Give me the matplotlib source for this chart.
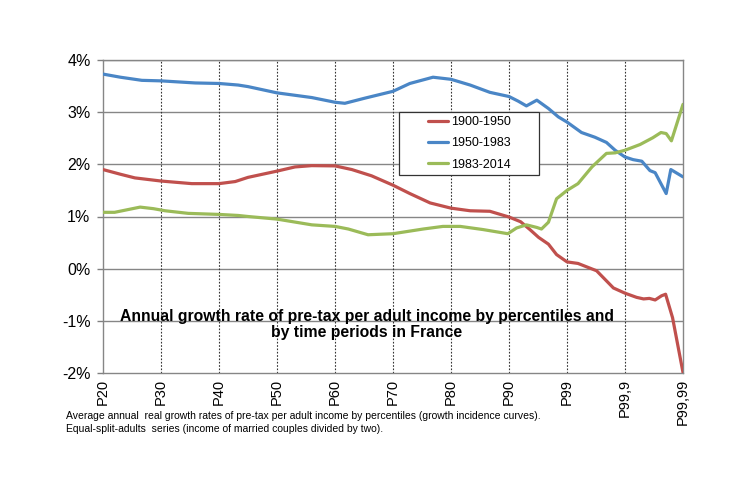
import matplotlib
matplotlib.use("Agg")
import matplotlib.pyplot as plt
from matplotlib.ticker import FuncFormatter
from matplotlib.patches import Rectangle

plt.rcParams['font.family'] = ['Liberation Sans', 'DejaVu Sans']

# Category tick labels (equally spaced)
tick_labels = ["P20", "P30", "P40", "P50", "P60", "P70", "P80", "P90", "P99", "P99,9", "P99,99"]

# Series: positions on the percentile axis (0 = P20 ... 10 = P99,99) and growth rates (%)
pos_1900_1950 = [0, 0.3, 0.55, 1.0, 1.53, 2.0, 2.28, 2.5, 3.0, 3.31, 3.6, 4.0, 4.29, 4.63, 5.0,
                 5.29, 5.64, 6.0, 6.33, 6.67, 7.0, 7.2, 7.36, 7.51, 7.68, 7.82, 8.0, 8.19, 8.51,
                 8.8, 9.0, 9.2, 9.32, 9.42, 9.52, 9.63, 9.7, 9.82, 10]
val_1900_1950 = [1.90, 1.81, 1.74, 1.68, 1.63, 1.63, 1.67, 1.75, 1.87, 1.95, 1.975, 1.97, 1.90,
                 1.78, 1.60, 1.44, 1.26, 1.16, 1.11, 1.10, 0.99, 0.90, 0.75, 0.60, 0.47, 0.27,
                 0.13, 0.10, -0.04, -0.37, -0.47, -0.55, -0.58, -0.57, -0.60, -0.52, -0.49,
                 -0.94, -1.99]

pos_1950_1983 = [0, 0.3, 0.67, 1.0, 1.59, 2.0, 2.33, 2.5, 3.0, 3.6, 4.0, 4.17, 4.52, 5.0, 5.29,
                 5.69, 6.0, 6.33, 6.67, 7.0, 7.16, 7.3, 7.48, 7.68, 7.85, 8.0, 8.25, 8.48, 8.68,
                 8.83, 9.0, 9.14, 9.29, 9.43, 9.52, 9.71, 9.79, 10]
val_1950_1983 = [3.73, 3.67, 3.61, 3.60, 3.56, 3.55, 3.52, 3.49, 3.37, 3.28, 3.19, 3.17, 3.27,
                 3.40, 3.55, 3.67, 3.63, 3.52, 3.38, 3.30, 3.21, 3.12, 3.23, 3.07, 2.91, 2.81,
                 2.61, 2.52, 2.42, 2.27, 2.14, 2.09, 2.06, 1.88, 1.84, 1.44, 1.90, 1.76]

pos_1983_2014 = [0, 0.2, 0.64, 0.87, 1.07, 1.47, 2.0, 2.33, 2.5, 3.0, 3.6, 4.0, 4.23, 4.57, 5.0,
                 5.52, 5.86, 6.16, 6.55, 6.98, 7.13, 7.3, 7.48, 7.56, 7.68, 7.82, 8.0, 8.19,
                 8.43, 8.68, 8.83, 9.0, 9.26, 9.48, 9.62, 9.71, 9.8, 10]
val_1983_2014 = [1.08, 1.08, 1.18, 1.15, 1.11, 1.06, 1.04, 1.02, 1.00, 0.95, 0.84, 0.81, 0.76,
                 0.65, 0.67, 0.76, 0.81, 0.81, 0.75, 0.67, 0.78, 0.84, 0.79, 0.76, 0.89, 1.34,
                 1.50, 1.63, 1.95, 2.21, 2.22, 2.27, 2.38, 2.51, 2.61, 2.59, 2.45, 3.15]

series_names = ["1900-1950", "1950-1983", "1983-2014"]
colors = ["#C0504D", "#4A86C6", "#9BBB59"]

title_text = ("Annual growth rate of pre-tax per adult income by percentiles and\n"
              "by time periods in France")
note_lines = ["Average annual  real growth rates of pre-tax per adult income by percentiles (growth incidence curves).",
              "Equal-split-adults  series (income of married couples divided by two)."]

fig = plt.figure(figsize=(7.5, 5), dpi=100)
ax = fig.add_axes([103 / 750, 1 - 373 / 500, 580 / 750, 313 / 500])

for pos, val, name, c in zip([pos_1900_1950, pos_1950_1983, pos_1983_2014],
                             [val_1900_1950, val_1950_1983, val_1983_2014],
                             series_names, colors):
    ax.plot(pos, val, color=c, lw=2.3, label=name, solid_capstyle='round', zorder=3)

ax.set_xlim(0, 10)
ax.set_ylim(-2, 4)
ax.set_yticks(range(-2, 5))
ax.yaxis.set_major_formatter(FuncFormatter(lambda v, p: f"{int(v)}%"))
ax.set_xticks(range(len(tick_labels)))
ax.set_xticklabels(tick_labels, rotation=90, fontsize=10.5)
ax.tick_params(axis='x', length=0, pad=4)
ax.tick_params(axis='y', length=4, width=1, color='#808080', labelsize=11.5, pad=5)

for y in range(-1, 5):
    ax.axhline(y, color='#868686', lw=1, zorder=1)
for x in range(1, 10):
    ax.axvline(x, color='#333333', lw=0.8, ls=(0, (1.5, 1.5)), zorder=1)

for s in ax.spines.values():
    s.set_color('#868686')
    s.set_linewidth(1)

# Legend box (white, dark border) with entries centred inside
box_l, box_t, box_r, box_b = 399, 112, 539, 175
fig.patches.append(Rectangle((box_l / 750, 1 - box_b / 500), (box_r - box_l) / 750,
                             (box_b - box_t) / 500, transform=fig.transFigure,
                             facecolor='white', edgecolor='#333333', lw=0.9, zorder=5))
leg = fig.legend(loc='center', bbox_to_anchor=((box_l + box_r) / 2 / 750, 1 - (box_t + box_b) / 2 / 500),
                 frameon=False, fontsize=9.0, handlelength=1.6, handletextpad=0.25,
                 borderpad=0, labelspacing=0.75, borderaxespad=0)
leg.set_zorder(6)

ax.text(0.455, 0.155, title_text, transform=ax.transAxes, ha='center', va='center',
        fontsize=11.3, fontweight='bold', linespacing=1.15, zorder=4)

fig.text(66 / 750, 1 - 416 / 500, note_lines[0], fontsize=7.5, va='center', ha='left')
fig.text(66 / 750, 1 - 429.5 / 500, note_lines[1], fontsize=7.5, va='center', ha='left')

fig.savefig("out.png", dpi=100)
